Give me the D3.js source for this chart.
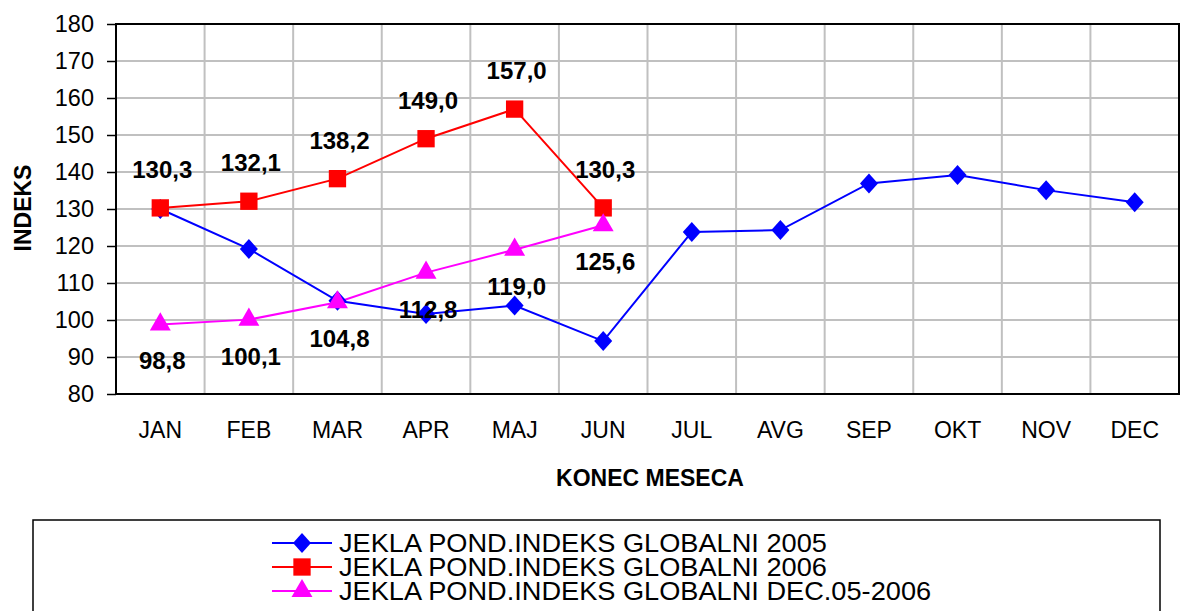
<!DOCTYPE html>
<html>
<head>
<meta charset="utf-8">
<script src="https://cdn.jsdelivr.net/npm/d3@7"></script>
<style>
  body { margin: 0; background: #fff; }
  svg { display: block; font-family: "Liberation Sans", Arial, sans-serif; }
</style>
</head>
<body>
<div id="chart"></div>
<script>
// data
var months = ["JAN", "FEB", "MAR", "APR", "MAJ", "JUN", "JUL", "AVG", "SEP", "OKT", "NOV", "DEC"]
var yTicks = [80, 90, 100, 110, 120, 130, 140, 150, 160, 170, 180]
var values2005 = [130.0, 119.2, 105.2, 101.6, 103.9, 94.3, 123.8, 124.3, 136.9, 139.2, 135.1, 131.8]
var values2006 = [130.3, 132.1, 138.2, 149.0, 157.0, 130.3]
var valuesDec = [98.8, 100.1, 104.8, 112.8, 119.0, 125.6]
var seriesNames = ["JEKLA POND.INDEKS GLOBALNI 2005", "JEKLA POND.INDEKS GLOBALNI 2006", "JEKLA POND.INDEKS GLOBALNI DEC.05-2006"]

var width = 1180, height = 611
var plotLeft = 116, plotRight = 1179, plotTop = 24, plotBottom = 394

var svg = d3.select("#chart").append("svg")
    .attr("width", width)
    .attr("height", height)
    .attr("viewBox", [0, 0, width, height])

var xScale = d3.scaleBand(months, [plotLeft, plotRight])
var yScale = d3.scaleLinear([80, 180], [plotBottom, plotTop])
var cx = m => xScale(m) + xScale.bandwidth() / 2

// grid
var grid = svg.append("g").attr("stroke", "#c0c0c0").attr("stroke-width", 2)
grid.selectAll("line.h").data(yTicks.slice(1, -1)).join("line")
    .attr("class", "h")
    .attr("x1", plotLeft).attr("x2", plotRight)
    .attr("y1", d => yScale(d)).attr("y2", d => yScale(d))
grid.selectAll("line.v").data(months.slice(1)).join("line")
    .attr("class", "v")
    .attr("x1", d => xScale(d)).attr("x2", d => xScale(d))
    .attr("y1", plotTop).attr("y2", plotBottom)

// frame
svg.append("rect")
    .attr("x", plotLeft).attr("y", plotTop)
    .attr("width", plotRight - plotLeft).attr("height", plotBottom - plotTop)
    .attr("fill", "none").attr("stroke", "#000").attr("stroke-width", 2)

// y axis
var yAxis = d3.axisLeft(yScale).tickValues(yTicks).tickSize(9).tickPadding(13)
svg.append("g")
    .attr("transform", `translate(${plotLeft},0)`)
    .call(yAxis)
    .call(g => g.select(".domain").remove())
    .call(g => g.selectAll("line").attr("stroke", "#000").attr("stroke-width", 1.5))
    .call(g => g.selectAll("text").attr("font-size", 23.5).attr("fill", "#000")
        .attr("font-family", "Liberation Sans, Arial, sans-serif"))

// x axis
var xAxis = d3.axisBottom(xScale).tickSize(0).tickPadding(28)
svg.append("g")
    .attr("transform", `translate(0,${plotBottom})`)
    .call(xAxis)
    .call(g => g.select(".domain").remove())
    .call(g => g.selectAll("text").attr("font-size", 23).attr("fill", "#000")
        .attr("font-family", "Liberation Sans, Arial, sans-serif"))

// axis titles
svg.append("text")
    .attr("transform", "translate(31,208) rotate(-90)")
    .attr("text-anchor", "middle")
    .attr("font-size", 23).attr("font-weight", "bold")
    .text("INDEKS")
svg.append("text")
    .attr("x", 650).attr("y", 486)
    .attr("text-anchor", "middle")
    .attr("font-size", 23).attr("font-weight", "bold")
    .text("KONEC MESECA")

var series = [
    {name: seriesNames[0], values: values2005, color: "#0000ff", symbol: d3.symbolDiamond, size: 200, labels: null},
    {name: seriesNames[1], values: values2006, color: "#ff0000", symbol: d3.symbolSquare, size: 300, labels: -30},
    {name: seriesNames[2], values: valuesDec, color: "#ff00ff", symbol: d3.symbolTriangle, size: 190, labels: 45}
]

var line = d3.line()
    .x((d, i) => cx(months[i]))
    .y(d => yScale(d))

function drawMarker(sel, s) {
    if (s.symbol === d3.symbolDiamond) {
        sel.attr("d", "M0,-10L9,0L0,10L-9,0Z")
    } else {
        sel.attr("d", d3.symbol(s.symbol, s.size))
    }
}

series.forEach(s => {
    svg.append("path")
        .attr("d", line(s.values))
        .attr("fill", "none")
        .attr("stroke", s.color)
        .attr("stroke-width", 2)
})

series.forEach(s => {
    svg.append("g").selectAll("path").data(s.values).join("path")
        .attr("transform", (d, i) => `translate(${cx(months[i])},${yScale(d)})`)
        .attr("fill", s.color)
        .call(drawMarker, s)
})

// value labels
series.filter(s => s.labels !== null).forEach(s => {
    svg.append("g").selectAll("text").data(s.values).join("text")
        .attr("x", (d, i) => cx(months[i]) + 2)
        .attr("y", d => yScale(d) + s.labels)
        .attr("text-anchor", "middle")
        .attr("font-size", 24).attr("font-weight", "bold")
        .text(d => d.toFixed(1).replace(".", ","))
})

// legend
svg.append("rect")
    .attr("x", 33).attr("y", 520)
    .attr("width", 1127).attr("height", 120)
    .attr("fill", "none").attr("stroke", "#000").attr("stroke-width", 1.5)

var legend = svg.append("g").selectAll("g").data(series).join("g")
    .attr("transform", (d, i) => `translate(0,${543 + i * 24})`)
legend.append("line")
    .attr("x1", 272).attr("x2", 332)
    .attr("stroke", d => d.color).attr("stroke-width", 2)
legend.append("path")
    .attr("transform", "translate(302,0)")
    .attr("fill", d => d.color)
    .each(function (d) { d3.select(this).call(drawMarker, d) })
var legendText = legend.append("text")
    .attr("font-size", 25)
    .text(d => d.name)
// the original text is a bit wider than the font: stretch to fit
var stretch = 488 / legendText.node().getComputedTextLength()
legendText.attr("transform", `translate(339,9) scale(${stretch},1)`)
</script>
</body>
</html>
